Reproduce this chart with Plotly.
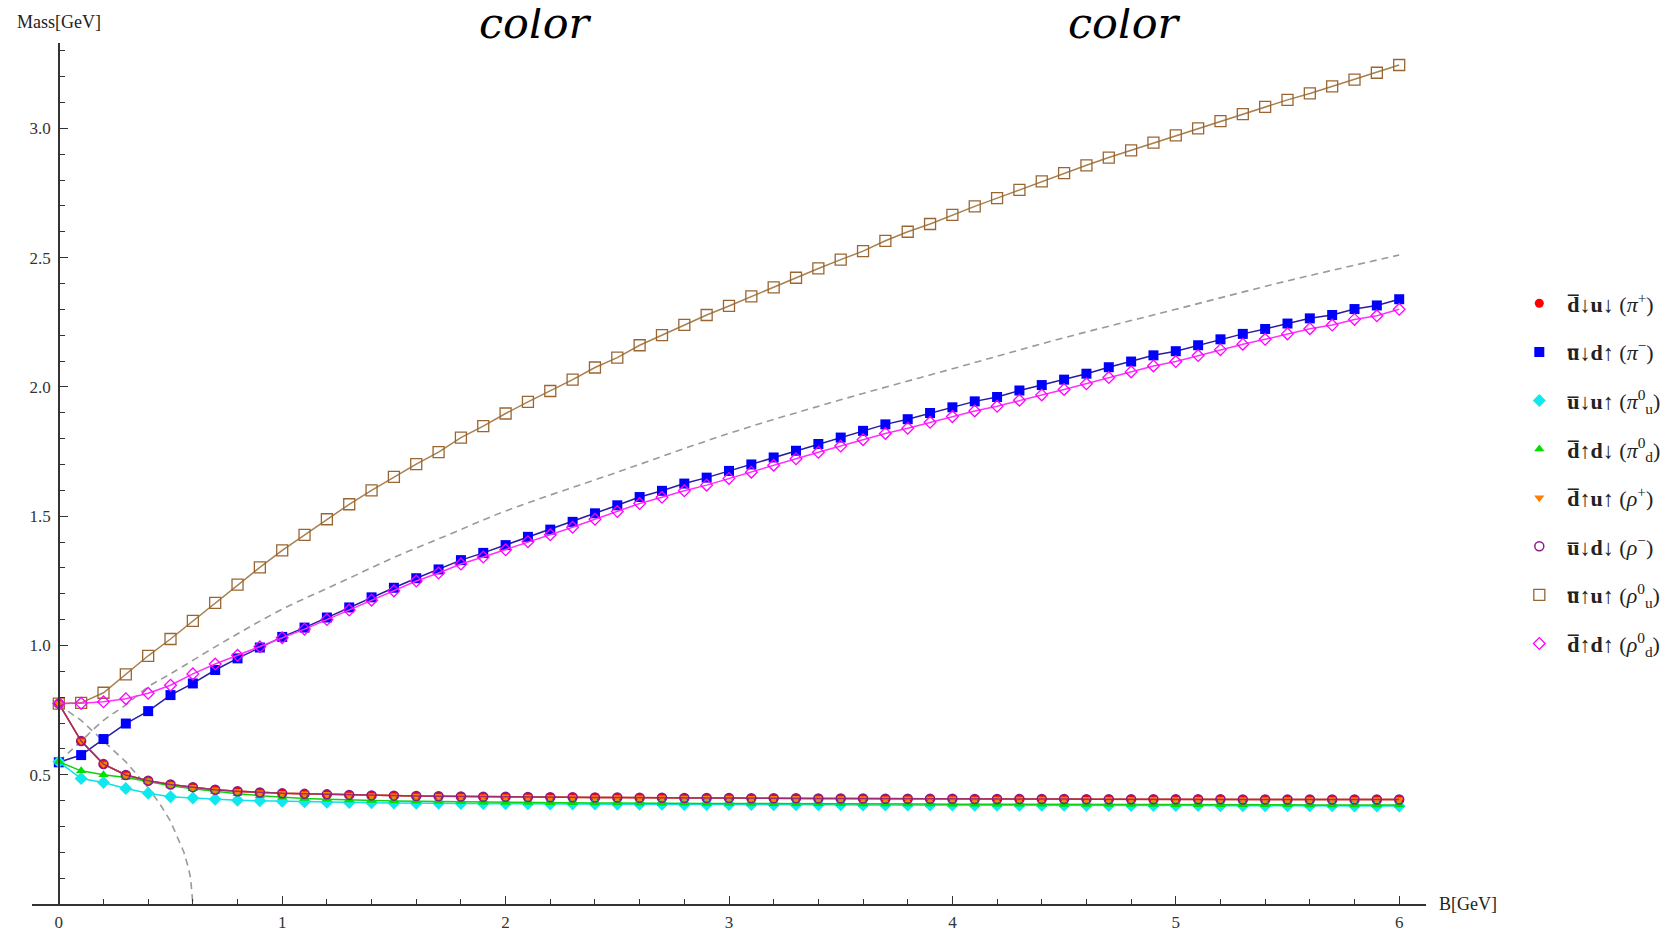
import plotly.graph_objects as go

# ---------------- data ----------------
B = [round(0.1 * i, 1) for i in range(61)]

pi_plus = [0.775, 0.630, 0.541, 0.499, 0.477, 0.462, 0.452, 0.442, 0.436, 0.431,
           0.428, 0.426, 0.424, 0.422, 0.420, 0.419, 0.418, 0.417, 0.416, 0.415,
           0.415, 0.414, 0.413, 0.413, 0.412, 0.412, 0.411, 0.411, 0.410, 0.410,
           0.410, 0.409, 0.409, 0.409, 0.408, 0.408, 0.408, 0.407, 0.407, 0.407,
           0.407, 0.406, 0.406, 0.406, 0.406, 0.406, 0.405, 0.405, 0.405, 0.405,
           0.405, 0.405, 0.405, 0.404, 0.404, 0.404, 0.404, 0.404, 0.404, 0.404,
           0.404]

pi_minus = [0.548, 0.576, 0.638, 0.698, 0.746, 0.808, 0.853, 0.905, 0.950, 0.992,
            1.033, 1.069, 1.108, 1.147, 1.186, 1.223, 1.260, 1.294, 1.330, 1.358,
            1.388, 1.420, 1.448, 1.478, 1.511, 1.542, 1.574, 1.598, 1.626, 1.649,
            1.675, 1.700, 1.727, 1.753, 1.779, 1.804, 1.830, 1.855, 1.875, 1.899,
            1.921, 1.944, 1.961, 1.986, 2.007, 2.028, 2.051, 2.076, 2.098, 2.122,
            2.138, 2.161, 2.184, 2.205, 2.224, 2.245, 2.265, 2.278, 2.301, 2.315,
            2.339]

pi0_u = [0.550, 0.485, 0.470, 0.447, 0.428, 0.415, 0.410, 0.405, 0.401, 0.399,
         0.397, 0.395, 0.394, 0.393, 0.392, 0.391, 0.390, 0.390, 0.389, 0.389,
         0.388, 0.388, 0.387, 0.387, 0.387, 0.386, 0.386, 0.386, 0.385, 0.385,
         0.385, 0.385, 0.384, 0.384, 0.384, 0.384, 0.383, 0.383, 0.383, 0.383,
         0.383, 0.382, 0.382, 0.382, 0.382, 0.382, 0.381, 0.381, 0.381, 0.381,
         0.381, 0.381, 0.380, 0.380, 0.380, 0.380, 0.380, 0.380, 0.379, 0.379,
         0.379]

pi0_d = [0.550, 0.515, 0.500, 0.489, 0.474, 0.457, 0.446, 0.435, 0.426, 0.419,
         0.413, 0.408, 0.405, 0.402, 0.400, 0.398, 0.397, 0.396, 0.395, 0.394,
         0.393, 0.393, 0.392, 0.392, 0.391, 0.391, 0.390, 0.390, 0.390, 0.389,
         0.389, 0.389, 0.388, 0.388, 0.388, 0.388, 0.387, 0.387, 0.387, 0.387,
         0.386, 0.386, 0.386, 0.386, 0.386, 0.385, 0.385, 0.385, 0.385, 0.385,
         0.384, 0.384, 0.384, 0.384, 0.384, 0.384, 0.383, 0.383, 0.383, 0.383,
         0.383]

rho_plus = list(pi_plus)
rho_minus = list(pi_plus)

rho0_u = [0.775, 0.778, 0.817, 0.888, 0.960, 1.025, 1.095, 1.165, 1.235, 1.302,
          1.368, 1.428, 1.488, 1.546, 1.600, 1.652, 1.701, 1.748, 1.804, 1.848,
          1.897, 1.942, 1.984, 2.028, 2.075, 2.113, 2.161, 2.200, 2.240, 2.278,
          2.313, 2.350, 2.385, 2.422, 2.458, 2.492, 2.525, 2.565, 2.600, 2.630,
          2.665, 2.698, 2.730, 2.762, 2.795, 2.827, 2.857, 2.887, 2.915, 2.945,
          2.973, 3.000, 3.028, 3.055, 3.083, 3.110, 3.135, 3.162, 3.188, 3.215,
          3.245]

rho0_d = [0.775, 0.776, 0.782, 0.794, 0.815, 0.846, 0.890, 0.928, 0.962, 0.995,
          1.030, 1.063, 1.100, 1.137, 1.175, 1.211, 1.249, 1.280, 1.315, 1.342,
          1.370, 1.401, 1.428, 1.457, 1.488, 1.518, 1.549, 1.573, 1.598, 1.620,
          1.646, 1.670, 1.697, 1.722, 1.747, 1.771, 1.796, 1.820, 1.840, 1.863,
          1.885, 1.907, 1.925, 1.948, 1.969, 1.990, 2.012, 2.036, 2.058, 2.081,
          2.098, 2.121, 2.144, 2.165, 2.184, 2.205, 2.225, 2.239, 2.261, 2.275,
          2.300]

# gray dashed reference curves
ref_up_B = [0, 0.05, 0.1, 0.2, 0.3, 0.4, 0.5, 0.75, 1.0, 1.25, 1.5, 1.75, 2.0,
            2.5, 3.0, 3.5, 4.0, 4.5, 5.0, 5.5, 6.0]
ref_up_M = [0.55, 0.59, 0.63, 0.71, 0.77, 0.84, 0.89, 1.02, 1.14, 1.24, 1.34,
            1.43, 1.52, 1.67, 1.82, 1.95, 2.07, 2.19, 2.30, 2.41, 2.51]
ref_dn_B = [0, 0.05, 0.1, 0.15, 0.2, 0.25, 0.3, 0.35, 0.4, 0.45, 0.5, 0.53,
            0.56, 0.58, 0.59, 0.6]
ref_dn_M = [0.775, 0.74, 0.71, 0.67, 0.63, 0.59, 0.55, 0.50, 0.45, 0.39, 0.32,
            0.26, 0.20, 0.14, 0.10, 0.0]

x_ticks = [0, 1, 2, 3, 4, 5, 6]
y_ticks = [0.5, 1.0, 1.5, 2.0, 2.5, 3.0]
y_ticktext = ["0.5", "1.0", "1.5", "2.0", "2.5", "3.0"]

OL = "\u0305"
names = [
    f"<b>d{OL}</b>↓<b>u</b>↓ (<i>π</i><sup>+</sup>)",
    f"<b>u{OL}</b>↓<b>d</b>↑ (<i>π</i><sup>−</sup>)",
    f"<b>u{OL}</b>↓<b>u</b>↑ (<i>π</i><sup>0</sup><sub>u</sub>)",
    f"<b>d{OL}</b>↑<b>d</b>↓ (<i>π</i><sup>0</sup><sub>d</sub>)",
    f"<b>d{OL}</b>↑<b>u</b>↑ (<i>ρ</i><sup>+</sup>)",
    f"<b>u{OL}</b>↓<b>d</b>↓ (<i>ρ</i><sup>−</sup>)",
    f"<b>u{OL}</b>↑<b>u</b>↑ (<i>ρ</i><sup>0</sup><sub>u</sub>)",
    f"<b>d{OL}</b>↑<b>d</b>↑ (<i>ρ</i><sup>0</sup><sub>d</sub>)",
]

series = [pi_plus, pi_minus, pi0_u, pi0_d, rho_plus, rho_minus, rho0_u, rho0_d]
line_colors = ["#e0202a", "#2a1aa0", "#10e0e8", "#10d010", "#ff8010",
               "#9a2e6e", "#a8804e", "#ff30ff"]
marker_styles = [
    dict(symbol="circle", size=9, color="#ff0000"),
    dict(symbol="square", size=10, color="#0000ff"),
    dict(symbol="diamond", size=10, color="#10e8f0"),
    dict(symbol="triangle-up", size=9, color="#00e000"),
    dict(symbol="triangle-down", size=9, color="#ff8000"),
    dict(symbol="circle-open", size=9, color="#8a1a8a", line=dict(width=1.5)),
    dict(symbol="square-open", size=11, color="#996633", line=dict(width=1.3)),
    dict(symbol="diamond-open", size=9, color="#ff00ff", line=dict(width=1.3)),
]

fig = go.Figure()

gray = "#9a9a9a"
fig.add_trace(go.Scatter(x=ref_up_B, y=ref_up_M, mode="lines", showlegend=False,
                         line=dict(color=gray, width=1.6, dash="7px,5px", shape="spline"),
                         hoverinfo="skip"))
fig.add_trace(go.Scatter(x=ref_dn_B, y=ref_dn_M, mode="lines", showlegend=False,
                         line=dict(color=gray, width=1.6, dash="7px,5px"),
                         hoverinfo="skip"))

for i, (ys, nm) in enumerate(zip(series, names)):
    fig.add_trace(go.Scatter(x=B, y=ys, mode="lines", showlegend=False,
                             line=dict(color=line_colors[i], width=1.5),
                             hoverinfo="skip"))
    ms = dict(marker_styles[i])
    fig.add_trace(go.Scatter(x=B, y=ys, mode="markers", name=nm,
                             legendgroup=f"g{i}", marker=ms))

axis_col = "#333333"
tick_font = dict(family="Liberation Serif", size=17, color="#333333")

# page has an 8px body margin; the figure is sized/placed to compensate
W, H = 1668, 923
L, T = 23.7, 34.5
PW, PH = 1394, 861.5

fig.update_layout(
    width=W, height=H,
    margin=dict(l=L, r=W - L - PW, t=T, b=H - T - PH, autoexpand=False),
    paper_bgcolor="white", plot_bgcolor="white",
    xaxis=dict(range=[-0.12, 6.12], showgrid=False, zeroline=False,
               showline=True, linecolor=axis_col, linewidth=1.5,
               tickmode="array", tickvals=x_ticks,
               ticks="inside", ticklen=8, tickwidth=1.3, tickcolor=axis_col,
               minor=dict(tickmode="linear", tick0=0, dtick=0.2, ticks="inside",
                          ticklen=5, tickwidth=1, tickcolor=axis_col),
               tickfont=tick_font, ticklabelstandoff=2, automargin=False),
    yaxis=dict(range=[0, 3.33], showgrid=False, zeroline=False,
               anchor="free", position=0.12 / 6.24,
               showline=True, linecolor=axis_col, linewidth=1.5,
               tickmode="array", tickvals=y_ticks, ticktext=y_ticktext,
               ticks="inside", ticklen=8, tickwidth=1.3, tickcolor=axis_col,
               minor=dict(tickmode="linear", tick0=0, dtick=0.1, ticks="inside",
                          ticklen=5, tickwidth=1, tickcolor=axis_col),
               tickfont=tick_font, ticklabelstandoff=4, automargin=False),
    legend=dict(x=(1511 - 8 - L) / PW, xanchor="left", y=0.50, yanchor="middle",
                font=dict(family="Liberation Serif", size=22, color="#222222"),
                itemwidth=46, tracegroupgap=17, bgcolor="rgba(0,0,0,0)"),
    showlegend=True,
)

def px_x(p):
    return (p - 8 - L) / PW

def px_y(p):
    return (T + PH - (p - 8)) / PH

fig.add_annotation(x=0, xref="x", y=px_y(21), yref="paper",
                   text="Mass[GeV]", showarrow=False, xanchor="center", yanchor="middle",
                   font=dict(family="Liberation Serif", size=18, color="#222222"))
fig.add_annotation(x=px_x(1437), xref="paper", y=0, yref="y",
                   text="B[GeV]", showarrow=False, xanchor="left", yanchor="middle",
                   font=dict(family="Liberation Serif", size=18, color="#222222"))
for cx in [535, 1124]:
    fig.add_annotation(x=px_x(cx), xref="paper", y=px_y(22), yref="paper",
                       text="<i>color</i>", showarrow=False, xanchor="center",
                       yanchor="middle",
                       font=dict(family="DejaVu Serif", size=43, color="#000000"))

fig.write_html("out.html")
